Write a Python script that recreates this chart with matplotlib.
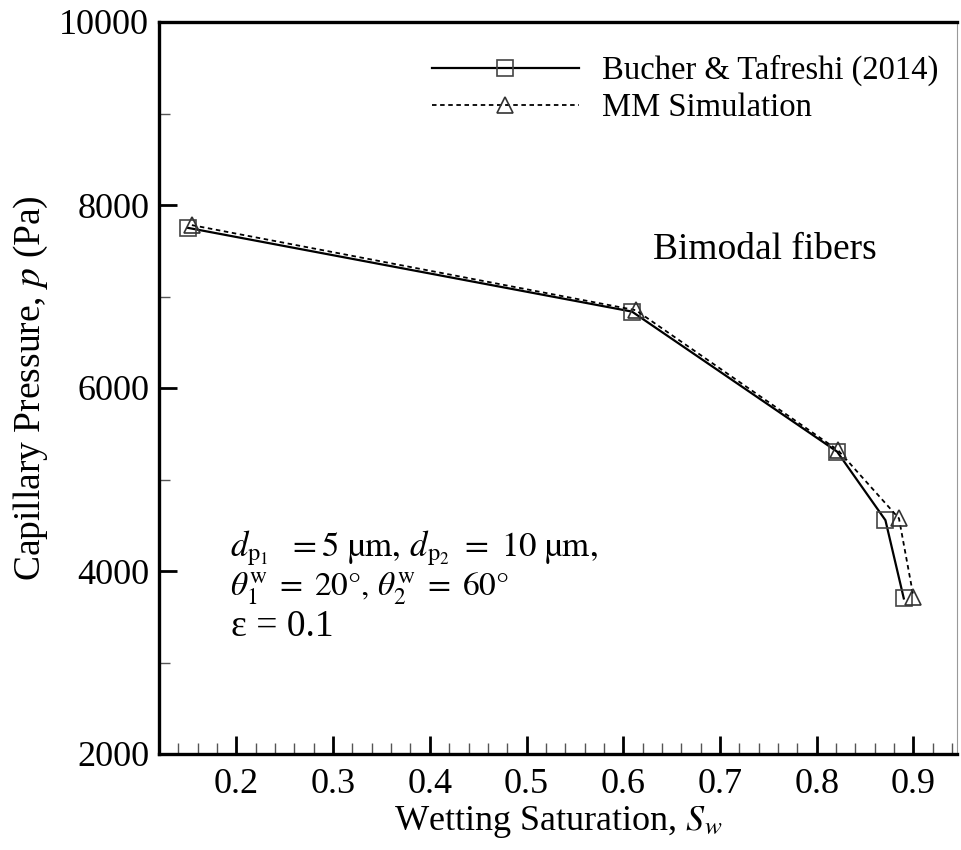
import matplotlib
matplotlib.use("Agg")
import matplotlib.pyplot as plt
from matplotlib.ticker import MultipleLocator

plt.rcParams["font.family"] = ["Liberation Serif", "DejaVu Serif"]
plt.rcParams["mathtext.fontset"] = "stix"

# capillary pressure curves, bimodal fibers
sw_bucher = [0.150, 0.609, 0.821, 0.871, 0.890]
p_bucher = [7750, 6835, 5305, 4555, 3700]
sw_mm = [0.154, 0.613, 0.822, 0.885, 0.900]
p_mm = [7780, 6850, 5320, 4575, 3720]

fig = plt.figure(figsize=(9.61, 8.5), dpi=100)
ax = fig.add_axes([159 / 961, 1 - 754 / 850, (957 - 159) / 961, (754 - 22) / 850])

ax.plot(sw_bucher, p_bucher, color="black", lw=1.6, marker="s", ms=11,
        mfc="none", mec="#444444", mew=1.2, label="Bucher & Tafreshi (2014)")
ax.plot(sw_mm, p_mm, color="black", lw=1.3, ls=(0, (2.5, 2)), marker="^", ms=12,
        mfc="none", mec="#333333", mew=1.2, label="MM Simulation")

ax.set_xlim(0.12, 0.945)
ax.set_ylim(2000, 10000)
ax.xaxis.set_major_locator(MultipleLocator(0.1))
ax.xaxis.set_minor_locator(MultipleLocator(0.02))
ax.yaxis.set_major_locator(MultipleLocator(2000))
ax.yaxis.set_minor_locator(MultipleLocator(1000))
ax.set_xticks([0.2, 0.3, 0.4, 0.5, 0.6, 0.7, 0.8, 0.9])
ax.set_xticklabels(["0.2", "0.3", "0.4", "0.5", "0.6", "0.7", "0.8", "0.9"])

ax.tick_params(which="both", direction="in", labelsize=26, colors="black")
ax.tick_params(which="major", length=13, width=2)
ax.tick_params(which="minor", length=8, width=1, color="#555555")
ax.tick_params(axis="x", pad=10)
ax.tick_params(axis="y", pad=7)

for side in ["left", "bottom", "top"]:
    ax.spines[side].set_linewidth(2.4)
ax.spines["right"].set_linewidth(0.8)
ax.spines["right"].set_color("#999999")

ax.set_xlabel("Wetting Saturation, $\\mathit{S}_{\\mathit{w}}$", fontsize=26, labelpad=2)
ax.set_ylabel("Capillary Pressure, $\\mathit{p}$ (Pa)", fontsize=27, labelpad=7)

ax.legend(loc="upper left", bbox_to_anchor=(432 / 961, 1 - 55 / 850),
          bbox_transform=fig.transFigure, frameon=False, fontsize=23.5,
          handlelength=4.5, handletextpad=0.7, labelspacing=0.2,
          borderpad=0, borderaxespad=0)

fig.text(653 / 961, 1 - 259 / 850, "Bimodal fibers", fontsize=27, va="baseline")
fig.text(230 / 961, 1 - 556 / 850,
         "$d_{\\mathrm{p}_1}\\ \\ = 5\\ \\mathrm{\u00b5m},\\, d_{\\mathrm{p}_2}\\ =\\ 10\\ \\mathrm{\u00b5m},$",
         fontsize=25, va="baseline")
fig.text(230 / 961, 1 - 595 / 850,
         "$\\theta_1^{\\mathrm{w}}\\;=\\;20\u00b0,\\, \\theta_2^{\\mathrm{w}}\\;=\\;60\u00b0$",
         fontsize=24, va="baseline")
fig.text(231 / 961, 1 - 636 / 850, "\u03b5 = 0.1", fontsize=27, va="baseline")

fig.savefig("out.png", dpi=100)
